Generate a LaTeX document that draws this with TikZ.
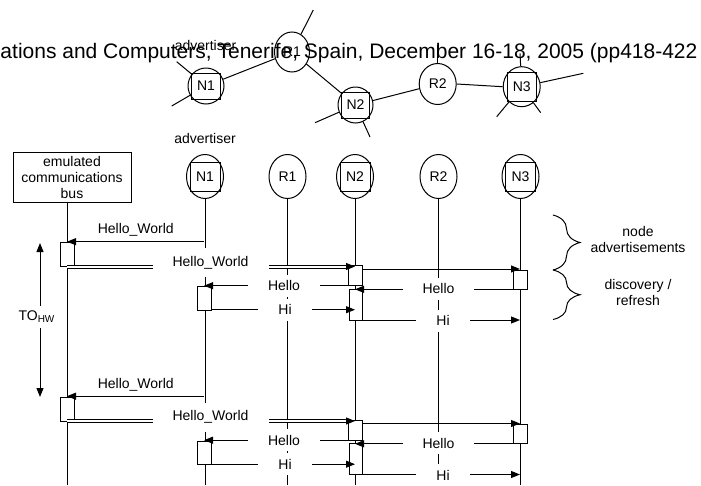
\documentclass[tikz,border=0pt]{standalone}
\usepackage{fontspec}
\setmainfont{Liberation Sans}
\usetikzlibrary{arrows.meta,shapes.geometric,decorations.pathreplacing}
\begin{document}
\begin{tikzpicture}[x=1pt,y=-1pt,line width=1pt,
  font=\fontsize{14}{16}\selectfont,
  ell/.style={ellipse,draw,inner sep=0pt,minimum width=37pt,minimum height=44pt},
  sq/.style={rectangle,draw,inner sep=0pt,minimum width=30pt,minimum height=29pt},
  act/.style={rectangle,draw,fill=white,inner sep=0pt},
  msg/.style={-{Triangle[length=9pt,width=7pt]}},
  twotip/.style={{Triangle[length=9pt,width=7pt]}-{Triangle[length=9pt,width=7pt]}},
  lbl/.style={fill=white,inner xsep=20pt,inner ysep=6pt,text height=10pt,text depth=0pt},
  dbl/.style={double,double distance=2pt}]
\useasboundingbox (0,0) rectangle (701,485);

% ---------- header text ----------
\node[anchor=base west,inner sep=0pt,font=\fontsize{21}{24}\selectfont] (hdr) at (0,58)
  {ations and Computers, Tenerife, Spain, December 16-18, 2005 (pp418-422};

% ---------- top network ----------
\node[ell,minimum width=36pt,minimum height=36pt] (tN1) at (206,86) {};
\node[sq,minimum width=29pt,minimum height=26pt] (tN1q) at (tN1) {N1};
\node[ell,minimum width=35pt,minimum height=40pt] (tR1) at (292,52) {R1};
\node[ell,minimum width=35pt,minimum height=36pt] (tN2) at (355.5,105) {};
\node[sq,minimum width=28pt,minimum height=26pt] (tN2q) at (tN2) {N2};
\node[ell,minimum width=37pt,minimum height=41pt] (tR2) at (437.7,84) {R2};
\node[ell,minimum width=37pt,minimum height=40pt] (tN3) at (521.7,86.7) {};
\node[sq,minimum width=29pt,minimum height=29pt] (tN3q) at (tN3) {N3};
\node[anchor=base] (tadv) at (205.5,50) {advertiser};

\draw (tN1) -- (tR1);
\draw (tR1) -- (tN2);
\draw (tN2) -- (tR2);
\draw (tR2.east) -- (tN3.west);
\coordinate (s1) at (176.7,61.7);
\coordinate (s2) at (171.7,106);
\coordinate (s3) at (313.3,10);
\coordinate (s4) at (315,122.7);
\coordinate (s5) at (370,137);
\coordinate (s6) at (437.7,45);
\coordinate (s7) at (520,53.3);
\coordinate (s8) at (583.3,73.3);
\coordinate (s9) at (496.7,116.7);
\coordinate (s10) at (540.7,112.7);
\draw (tN1) -- (s1);
\draw (tN1) -- (s2);
\draw (tR1) -- (s3);
\draw (tN2) -- (s4);
\draw (tN2) -- (s5);
\draw (tR2.north) -- (s6);
\draw (tN3) -- (s7);
\draw (tN3) -- (s8);
\draw (tN3) -- (s9);
\draw (tN3) -- (s10);

% ---------- sequence heads ----------
\node[draw,minimum width=118pt,minimum height=50pt,inner sep=0pt,align=center] (bus) at (72,177)
  {emulated\\communications\\bus};
\node[anchor=base] (adv) at (205,143) {advertiser};
\node[ell] (N1) at (205,176.5) {};
\node[sq] (N1q) at (N1) {N1};
\node[ell] (R1) at (287.5,176.5) {R1};
\node[ell] (N2) at (355,176.5) {};
\node[sq] (N2q) at (N2) {N2};
\node[ell] (R2) at (438.5,176.5) {R2};
\node[ell] (N3) at (520.5,176.5) {};
\node[sq] (N3q) at (N3) {N3};

% lifelines
\coordinate (bottom) at (0,485);
\coordinate (busL) at (67,202);
\draw (busL) -- (busL |- bottom);
\draw (N1.south) -- (N1.south |- bottom);
\draw (R1.south) -- (R1.south |- bottom);
\draw (N2.south) -- (N2.south |- bottom);
\draw (R2.south) -- (R2.south |- bottom);
\draw (N3.south) -- (N3.south |- bottom);

% TO_HW
\coordinate (toA) at (40,243);
\coordinate (toB) at (40,397);
\draw[twotip] (toA) -- (toB);
\node[fill=white,inner xsep=1pt,inner ysep=5pt] (toL) at (36.5,317)
  {TO\raisebox{-2pt}{\fontsize{10}{10}\selectfont HW}};

% braces
\coordinate (bA) at (553,215);
\coordinate (bB) at (553,270);
\coordinate (bC) at (553,319.5);
\draw[decorate,decoration={brace,amplitude=27pt}] (bA) -- (bB);
\draw[decorate,decoration={brace,amplitude=27pt}] (bB) -- (bC);
\node[align=center,font=\fontsize{14}{16.5}\selectfont] (nadv) at (638,239.5) {node\\advertisements};
\node[align=center,font=\fontsize{14}{16.5}\selectfont] (disc) at (638,292.5) {discovery /\\refresh};

% ---------- two message blocks ----------
\foreach \o/\k in {0/a,154.5/b}{
  % activation boxes
  \node[act,minimum width=13.3pt,minimum height=24pt] (bx\k) at (67.35,254.7+\o) {};
  \node[act,minimum width=14pt,minimum height=23.3pt] (nx\k) at (204.7,298.35+\o) {};
  \node[act,minimum width=14pt,minimum height=20pt] (ax\k) at (355.3,275.7+\o) {};
  \node[act,minimum width=13.3pt,minimum height=30.7pt] (cx\k) at (355.65,304.65+\o) {};
  \node[act,minimum width=14pt,minimum height=19pt] (dx\k) at (520,279.5+\o) {};
  % 1: N1 -> bus
  \coordinate (m1s\k) at (204,241.7+\o);
  \coordinate (m1e\k) at (67,241.7+\o);
  \draw[msg] (m1s\k) -- (m1e\k);
  \node (m1l\k) at (135.8,230+\o) {Hello\_World};
  % 2: bus -> N2 (double)
  \coordinate (m2s\k) at (67,266.5+\o);
  \coordinate (m2e\k) at (355,266.5+\o);
  \draw[dbl] (m2s\k) -- ([xshift=-8pt]m2e\k);
  \draw[msg] ([xshift=-9pt]m2e\k) -- (m2e\k);
  \node[lbl,anchor=base,text depth=3pt,inner ysep=8pt] (m2l\k) at (210.5,266+\o) {Hello\_World};
  % 3: N2 -> N3
  \coordinate (m3s\k) at (362.3,269+\o);
  \coordinate (m3e\k) at (520,269+\o);
  \draw[msg] (m3s\k) -- (m3e\k);
  % 4: N2 -> N1 Hello
  \coordinate (m4s\k) at (362.3,285.7+\o);
  \coordinate (m4e\k) at (204,285.7+\o);
  \draw[msg] (m4s\k) -- (m4e\k);
  \node[lbl] (m4l\k) at (284,285.7+\o) {Hello};
  % 5: N3 -> N2 Hello
  \coordinate (m5s\k) at (513,289.3+\o);
  \coordinate (m5e\k) at (355,289.3+\o);
  \draw[msg] (m5s\k) -- (m5e\k);
  \node[lbl] (m5l\k) at (438.5,288.8+\o) {Hello};
  % 6: N1 -> N2 Hi
  \coordinate (m6s\k) at (211.7,309.7+\o);
  \coordinate (m6e\k) at (355,309.7+\o);
  \draw[msg] (m6s\k) -- (m6e\k);
  \node[lbl] (m6l\k) at (285,309.5+\o) {Hi};
  % 7: N2 -> N3 Hi
  \coordinate (m7s\k) at (362.3,320+\o);
  \coordinate (m7e\k) at (520,320+\o);
  \draw[msg] (m7s\k) -- (m7e\k);
  \node[lbl] (m7l\k) at (443,320.5+\o) {Hi};
}
\end{tikzpicture}
\end{document}
